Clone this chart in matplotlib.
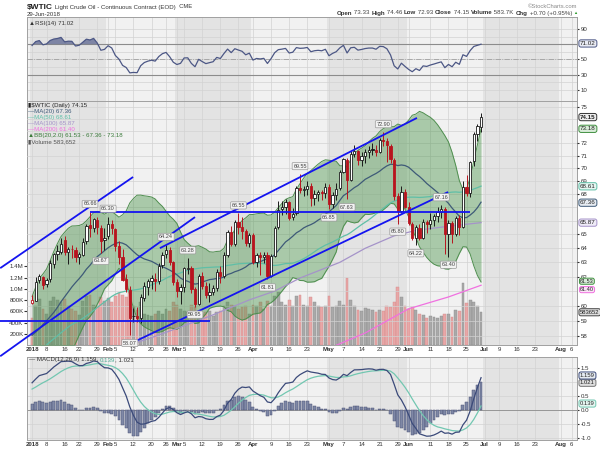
import numpy as np
import pandas as pd
import matplotlib
matplotlib.use("Agg")
import matplotlib.pyplot as plt
from matplotlib.ticker import FixedLocator, FixedFormatter, NullLocator, NullFormatter

plt.rcParams.update({
    "font.family": ["Liberation Sans", "DejaVu Sans"],
    "axes.edgecolor": "#a0a0a0",
    "axes.linewidth": 0.7,
    "xtick.color": "#333333",
    "ytick.color": "#333333",
})

# ---------------- data ----------------
# closes before 2018 (only used to warm up the moving averages / RSI / MACD)
hist_close = [51.84, 51.90, 52.47, 52.18, 52.64, 53.90, 54.15, 54.38,
              54.30, 54.54, 55.64, 57.35, 57.20, 56.81, 57.17, 56.74, 56.76, 55.70, 55.33,
              55.14, 56.55, 56.09, 56.83, 58.02, 58.95, 58.11, 57.99, 57.30, 57.40,
              58.36, 57.47, 57.62, 55.96, 56.69, 57.36, 57.99, 57.14, 56.60, 57.04,
              57.30, 57.16, 57.46, 58.09, 58.36, 58.47, 59.97, 59.64, 59.84, 60.42]

opens = [60.20, 60.35, 61.75, 61.95, 61.50, 61.80, 62.90, 63.60, 63.75, 64.60, 63.70, 63.95, 63.90, 63.40, 63.50, 64.55, 65.70, 65.50, 66.10, 65.50, 64.60,
         64.90, 65.75, 65.40, 64.20, 63.40, 61.80, 61.10, 59.30, 59.35, 59.20, 60.55, 61.30, 61.70, 61.85, 61.70, 62.80, 63.60, 63.90, 63.00,
         61.60, 61.00, 61.25, 62.55, 62.60, 61.15, 60.15, 62.05, 61.35, 60.70, 60.95, 61.20, 62.35, 62.05, 63.55, 65.20, 64.30, 65.90, 65.55, 65.25, 64.40,
         64.95, 63.00, 63.50, 63.40, 63.55, 62.05, 63.45, 65.55, 66.85, 67.05, 67.40, 66.25, 66.55, 68.50, 68.30, 68.40, 68.65, 67.70, 68.05, 68.20, 68.10,
         68.55, 67.25, 67.95, 68.45, 69.75, 70.70, 69.10, 71.15, 71.35, 70.70, 70.95, 71.30, 71.50, 71.50, 71.30, 72.25, 72.20, 71.80, 70.70, 67.85, 66.75, 68.20,
         67.05, 65.80, 64.75, 65.50, 64.75, 65.95, 65.75, 66.10, 66.35, 66.65, 66.90, 65.00, 65.85, 65.05, 66.20, 65.55, 68.55, 68.10, 70.55, 72.75, 73.33]
highs = [60.74, 61.95, 62.21, 62.04, 61.92, 63.15, 63.67, 64.22, 64.77, 64.89, 64.09, 64.26, 64.10, 63.75, 64.74, 65.74, 66.66, 66.20, 66.29, 65.70, 65.48,
         66.30, 66.05, 65.50, 64.56, 63.95, 62.15, 61.35, 59.88, 59.90, 60.80, 61.64, 61.85, 62.10, 62.25, 62.95, 63.73, 64.24, 64.10, 63.10,
         61.85, 61.50, 62.70, 63.28, 62.75, 61.30, 62.15, 62.35, 61.65, 61.55, 61.40, 62.50, 62.75, 63.70, 65.35, 65.60, 66.05, 66.55, 66.28, 65.40, 65.10,
         65.10, 63.65, 63.75, 63.70, 63.70, 63.60, 65.60, 67.45, 67.45, 67.65, 67.45, 66.95, 68.60, 69.55, 68.65, 69.00, 68.90, 68.35, 68.30, 68.35, 68.90,
         68.80, 68.15, 68.85, 69.85, 70.85, 70.85, 71.35, 71.89, 71.45, 71.30, 71.55, 71.78, 72.00, 71.90, 72.45, 72.90, 72.40, 71.95, 70.80, 68.10, 68.60, 68.40,
         67.40, 65.95, 65.70, 65.80, 66.15, 66.10, 66.55, 66.50, 67.00, 67.16, 67.00, 66.05, 66.00, 66.35, 66.45, 69.00, 69.45, 70.55, 72.90, 73.60, 74.46]
lows = [60.10, 60.30, 61.55, 61.12, 61.30, 61.60, 62.60, 63.15, 63.60, 63.55, 62.90, 63.30, 63.05, 62.90, 63.45, 64.30, 64.85, 65.20, 65.00, 63.67, 63.90,
        64.70, 65.00, 63.78, 62.87, 61.70, 60.97, 58.07, 58.92, 58.90, 58.88, 60.35, 60.75, 61.15, 61.00, 61.50, 62.60, 63.30, 62.80, 61.40,
        60.60, 60.15, 60.95, 62.20, 60.85, 59.95, 60.05, 61.15, 60.50, 60.25, 60.70, 61.00, 61.55, 61.90, 63.35, 64.20, 64.20, 65.05, 64.70, 64.15, 64.10,
        62.90, 62.70, 62.10, 62.95, 61.81, 61.95, 63.40, 65.40, 66.40, 66.50, 66.05, 66.10, 66.40, 68.10, 67.90, 67.95, 67.10, 67.20, 67.45, 67.60, 67.70,
        66.85, 66.95, 67.60, 68.30, 69.65, 67.63, 69.00, 70.90, 70.25, 70.20, 70.40, 70.85, 71.10, 70.95, 71.20, 71.80, 70.50, 70.40, 67.60, 65.80, 66.60, 66.95,
        65.70, 64.60, 64.22, 64.60, 64.70, 65.10, 65.40, 65.60, 65.90, 66.20, 63.59, 63.40, 64.40, 64.90, 64.95, 65.45, 67.85, 67.80, 70.20, 72.20, 72.93]
closes = [60.37, 61.63, 62.01, 61.44, 61.73, 62.96, 63.57, 63.80, 64.30, 63.73, 63.97, 63.95, 63.37, 63.57, 64.47, 65.61, 65.51, 66.14, 65.56, 64.50, 64.73,
          65.80, 65.45, 64.15, 63.39, 61.79, 61.15, 59.20, 59.29, 59.19, 60.60, 61.34, 61.68, 61.90, 61.68, 62.77, 63.55, 63.91, 63.01, 61.64,
          60.99, 61.25, 62.57, 62.60, 61.15, 60.12, 62.04, 61.36, 60.71, 60.96, 61.19, 62.34, 62.06, 63.54, 65.17, 64.30, 65.88, 65.55, 65.25, 64.38, 64.94,
          63.01, 63.51, 63.37, 63.54, 62.06, 63.42, 65.51, 66.82, 67.07, 67.39, 66.22, 66.52, 68.47, 68.29, 68.38, 68.64, 67.70, 68.05, 68.19, 68.10, 68.57,
          67.25, 67.93, 68.43, 69.72, 70.73, 69.06, 71.14, 71.36, 70.70, 70.96, 71.31, 71.49, 71.49, 71.28, 72.24, 72.20, 71.84, 70.71, 67.88, 66.73, 68.21, 67.04,
          65.81, 64.75, 65.52, 64.73, 65.95, 65.74, 66.10, 66.36, 66.64, 66.89, 65.06, 65.85, 65.07, 66.22, 65.54, 68.58, 68.08, 70.53, 72.76, 73.45, 74.15]
volume_k = [480, 700, 820, 640, 560, 780, 850, 800, 760, 820, 700, 650, 600, 540, 780, 880, 900, 720, 700, 860, 780,
            840, 760, 880, 920, 900, 860, 1000, 700, 620, 760, 560, 540, 520, 560, 600, 560, 640, 600, 760,
            720, 640, 600, 580, 720, 680, 600, 560, 580, 600, 520, 580, 600, 700, 760, 720, 700, 640, 680, 700, 560,
            720, 700, 760, 640, 780, 700, 880, 940, 760, 720, 800, 700, 880, 900, 720, 700, 860, 760, 700, 680, 700,
            880, 680, 700, 780, 720, 1200, 800, 700, 620, 600, 660, 640, 620, 580, 620, 600, 700, 680, 760, 1030, 850, 700,
            650, 680, 620, 560, 540, 480, 520, 500, 480, 520, 560, 560, 500, 620, 600, 1100, 740, 800, 760, 700, 584]

# longer moving averages, read at a few dates (trading-day index)
ma100_idx = [24, 33, 40, 49, 60, 67, 74, 85, 92, 100, 106, 115, 124]
ma100_val = [57.2, 57.9, 58.5, 59.3, 60.4, 61.0, 61.9, 63.0, 64.0, 64.9, 65.3, 65.6, 65.87]
ma200_idx = [80, 84, 92, 104, 115, 124]
ma200_val = [57.1, 57.4, 58.2, 59.8, 60.6, 61.40]

# price labels placed on swing highs / lows
ann_idx = [16, 21, 19, 27, 37, 43, 45, 57, 65, 74, 82, 87, 97, 101, 106, 113, 115]
ann_val = [66.66, 66.30, 63.67, 58.07, 64.24, 63.28, 59.95, 66.55, 61.81, 69.55,
           66.85, 67.63, 72.90, 65.80, 64.22, 67.16, 63.40]
ann_high = [True, True, False, False, True, True, False, True, False, True,
            False, False, True, False, False, True, False]

# hand-drawn trend lines: (x0, p0, x1, p1) in trading-day index / price
trend_lines = [(-8.8, 62.59, 27.9, 69.33),
               (-8.8, 56.70, 45.0, 66.28),
               (35.3, 64.01, 106.3, 74.08),
               (26.2, 57.40, 114.9, 68.17),
               (16.0, 66.66, 120.9, 66.66),
               (-8.8, 58.97, 49.1, 58.97)]

date_idx = [0, 4, 9, 13, 18, 21, 23, 28, 33, 37, 40, 42, 47, 52, 57, 61, 66, 71, 76,
            82, 86, 91, 96, 101, 104, 110, 115, 120, 125, 129, 134, 139, 146, 149]
date_lbl = ["2018", "8", "16", "22", "29", "Feb", "5", "12", "20", "26", "Mar", "5", "12",
            "19", "26", "Apr", "9", "16", "23", "May", "7", "14", "21", "29", "Jun", "11",
            "18", "25", "Jul", "9", "16", "23", "Aug", "6"]
month_start = [0, 21, 40, 61, 82, 104, 125, 146, 151]

price_grid = list(range(58, 76))
price_ticks = [58, 59, 60, 62, 63, 64, 65, 68, 69, 70, 71, 72, 75]
vol_ticks = [200e3, 400e3, 600e3, 800e3, 1.0e6, 1.2e6, 1.4e6]
vol_tick_lbl = ["200K", "400K", "600K", "800K", "1.0M", "1.2M", "1.4M"]
rsi_ticks = [10, 30, 50, 90]
macd_grid = [-1.0, -0.5, 0.0, 0.5, 1.0, 1.5]
macd_ticks = [-1.0, -0.5, 0.0, 0.5, 1.5]

# ---------------- indicators ----------------
n_hist = len(hist_close)
s = pd.Series(hist_close + closes)
ma20 = s.rolling(20).mean().values[n_hist:]
ma50 = s.rolling(50).mean().values[n_hist:]
sd20 = s.rolling(20).std(ddof=0).values[n_hist:]
bb_up, bb_dn = ma20 + 2 * sd20, ma20 - 2 * sd20
d = s.diff()
gain = d.clip(lower=0).ewm(alpha=1 / 14, adjust=False).mean()
loss = (-d.clip(upper=0)).ewm(alpha=1 / 14, adjust=False).mean()
rsi = (100 - 100 / (1 + gain / loss)).values[n_hist:]
macd_s = s.ewm(span=12, adjust=False).mean() - s.ewm(span=26, adjust=False).mean()
sig_s = macd_s.ewm(span=9, adjust=False).mean()
macd = macd_s.values[n_hist:]
sig = sig_s.values[n_hist:]
hist = macd - sig

o, h, l, c = map(np.array, (opens, highs, lows, closes))
x = np.arange(len(c))
prev = np.r_[hist_close[-1], c[:-1]]

# ---------------- styling ----------------
W, H = 600, 450
L, R = 27, 577
XMIN, XMAX = -1.4, 150.5
LIGHT, DARK, GRID = "#f1f1f1", "#e3e3e3", "#d2d2d2"
RED = "#b8141e"
C20, C50, C100, C200 = "#3e5a78", "#5fbfa7", "#a593c9", "#f070e0"
BBC = "#3f8f3f"
RSIC = "#4c5785"
FS = 4.4

fig = plt.figure(figsize=(6, 4.5), dpi=100)


def rect(top, bot):
    return [L / W, 1 - bot / H, (R - L) / W, (bot - top) / H]


def panel(a, labels=True):
    a.set_xlim(XMIN, XMAX)
    a.set_facecolor(LIGHT)
    for k in range(len(month_start) - 1):
        if k % 2 == 0:
            a.axvspan(month_start[k] - 0.5, month_start[k + 1] - 0.5,
                      color=DARK, lw=0, zorder=0)
    a.set_xticks(date_idx)
    a.set_xticklabels(date_lbl if labels else [])
    a.grid(axis="x", color=GRID, lw=0.5)
    a.tick_params(axis="x", length=0, pad=1.2, labelsize=FS)
    for t in a.get_xticklabels():
        if not t.get_text().isdigit() or t.get_text() == "2018":
            t.set_fontweight("bold")
    a.yaxis.tick_right()
    a.tick_params(axis="y", length=1.5, pad=1, labelsize=FS, colors="#333")


def tag(a, y, txt, ec, fc="#f6f6f6", tc="#222", weight="normal", trans=None, fs=4.5,
        pad=0.18):
    if trans is None:
        trans = a.get_yaxis_transform()
    a.text(1 + 3 / (R - L), y, txt, transform=trans, ha="left", va="center", fontsize=fs,
           color=tc, fontweight=weight, clip_on=False, zorder=20,
           bbox=dict(boxstyle=f"round,pad={pad},rounding_size=0.35", fc=fc, ec=ec, lw=0.7))


def run_text(x_px, y_px, parts, align="left"):
    r = fig.canvas.get_renderer()
    arts = [fig.text(0, 1 - y_px / H, t, va="center", **kw) for t, kw in parts]
    ws = [a.get_window_extent(r).width for a in arts]
    xx = x_px if align == "left" else x_px - sum(ws)
    for a, w in zip(arts, ws):
        a.set_x(xx / W)
        xx += w


# ---- RSI panel ----
ax_rsi = fig.add_axes(rect(17, 101))
panel(ax_rsi, labels=False)
ax_rsi.set_ylim(-4.4, 105.7)
for lv in range(10, 100, 10):
    ax_rsi.axhline(lv, color=GRID, lw=0.5, zorder=1)
ax_rsi.axhline(70, color="#8c8c8c", lw=0.8, zorder=2)
ax_rsi.axhline(30, color="#8c8c8c", lw=0.8, zorder=2)
ax_rsi.axhline(50, color="#a0a0a0", lw=0.6, ls="-.", zorder=2)
ax_rsi.fill_between(x, rsi, 70, where=rsi >= 70, interpolate=True,
                    color="#5d6690", alpha=0.75, lw=0, zorder=3)
ax_rsi.fill_between(x, rsi, 30, where=rsi <= 30, interpolate=True,
                    color="#5d6690", alpha=0.75, lw=0, zorder=3)
ax_rsi.plot(x, rsi, color=RSIC, lw=0.9, zorder=4)
ax_rsi.set_yticks(rsi_ticks)
tag(ax_rsi, 71.02, "71.02", RSIC, fc="#e9ebf3")
ax_rsi.text(0.004, 0.95, "\u25B2RSI(14) 71.02", transform=ax_rsi.transAxes, ha="left",
            va="top", fontsize=FS, color="#333")

# ---- price + volume panel ----
ax_vol = fig.add_axes(rect(101, 345))
panel(ax_vol)
ax_vol.set_ylim(0, 4.35e6)
ax_vol.yaxis.tick_left()
ax_vol.set_yticks(vol_ticks)
ax_vol.set_yticklabels(vol_tick_lbl)
ax_vol.tick_params(axis="y", length=2, pad=0.5, labelsize=FS)
v_up = c >= prev
ax_vol.bar(x, np.array(volume_k) * 1000, width=0.78,
           color=np.where(v_up, "#a9a9a9", "#e8a7a7"),
           edgecolor=np.where(v_up, "#8d8d8d", "#d48a8a"), lw=0.3, zorder=2)

ax = fig.add_axes(rect(101, 345), label="price")
ax.patch.set_visible(False)
ax.set_xlim(XMIN, XMAX)
ax.set_yscale("log")
ax.set_ylim(57.42, 75.5)
ax.yaxis.tick_right()
ax.yaxis.set_major_locator(FixedLocator(price_ticks))
ax.yaxis.set_major_formatter(FixedFormatter([str(t) for t in price_ticks]))
ax.yaxis.set_minor_locator(NullLocator())
ax.yaxis.set_minor_formatter(NullFormatter())
ax.set_xticks([])
ax.tick_params(axis="y", length=1.5, pad=1, labelsize=FS, colors="#333")
for lv in price_grid:
    ax.axhline(lv, color=GRID, lw=0.5, zorder=0.5)
for sp in ax.spines.values():
    sp.set_visible(False)

ax.fill_between(x, bb_dn, bb_up, color=BBC, alpha=0.4, lw=0, zorder=2)
ax.plot(x, bb_up, color="#4e8e4e", lw=0.7, zorder=2.2)
ax.plot(x, bb_dn, color="#4e8e4e", lw=0.7, zorder=2.2)
ax.plot(ma200_idx, ma200_val, color=C200, lw=0.9, zorder=3)
ax.plot(ma100_idx, ma100_val, color=C100, lw=0.9, zorder=3)
ax.plot(x, ma50, color=C50, lw=0.9, zorder=3)
ax.plot(x, ma20, color=C20, lw=0.9, zorder=3)

edge = np.where(c >= prev, "#1a1a1a", RED)
face = [("white" if cc >= oo else ec) for cc, oo, ec in zip(c, o, edge)]
ax.vlines(x, l, h, colors=edge, lw=0.7, zorder=4)
ax.bar(x, np.maximum(np.abs(c - o), 0.03), bottom=np.minimum(o, c), width=0.62,
       color=face, edgecolor=edge, lw=0.6, zorder=5)

for x0, p0, x1, p1 in trend_lines:
    ax.plot([x0, x1], [p0, p1], color="#1414f0", lw=1.3, zorder=6, clip_on=False,
            solid_capstyle="butt")

for i, v, up in zip(ann_idx, ann_val, ann_high):
    ax.annotate(f"{v:.2f}", (i, v), xytext=(0, 4 if up else -4), textcoords="offset points",
                ha="center", va="bottom" if up else "top", fontsize=4, color="#444",
                bbox=dict(boxstyle="round,pad=0.2", fc="#f2f2f2", ec="#9a9a9a", lw=0.5),
                zorder=7)

# value tags on the right edge (the two lowest sit stacked, as in the original)
tag(ax, 61.68, "61.53", BBC, fc="#d9ecd9", fs=4.0, pad=0.1)
tag(ax, 61.10, "61.40", C200, fc="#fbe3f7", fs=4.0, pad=0.1)
tag(ax, 65.87, "65.87", C100, fc="#efebf7")
tag(ax, 67.36, "67.36", C20, fc="#e6ebf1")
tag(ax, 68.61, "68.61", C50, fc="#e6f6f1")
tag(ax, 73.18, "73.18", BBC, fc="#d9ecd9")
tag(ax, 74.15, "74.15", "#333333", fc="#eeeeee", weight="bold")
tag(ax, 583652 / 4.35e6, "583652", "#444444", fc="#dddddd", trans=ax.transAxes, fs=4.2)

legend = [("\u25AE$WTIC (Daily) 74.15", "#222222"),
          ("\u2014MA(20) 67.36", C20),
          ("\u2014MA(50) 68.61", C50),
          ("\u2014MA(100) 65.87", C100),
          ("\u2014MA(200) 61.40", C200),
          ("\u25B2BB(20,2.0) 61.53 - 67.36 - 73.18", "#3a7a3a"),
          ("\u25AEVolume 583,652", "#555555")]
for k, (t, col) in enumerate(legend):
    fig.text(28 / W, 1 - (106 + 6 * k) / H, t, fontsize=FS, color=col, va="center")

# ---- MACD panel ----
ax_macd = fig.add_axes(rect(357, 440))
panel(ax_macd)
ax_macd.set_ylim(-1.06, 1.9)
ax_macd.set_yticks(macd_ticks)
ax_macd.set_yticklabels([f"{t:.1f}" for t in macd_ticks])
for lv in macd_grid:
    ax_macd.axhline(lv, color=GRID, lw=0.5, zorder=1)
ax_macd.axhline(0, color="#8c8c8c", lw=0.6, zorder=2)
ax_macd.bar(x, hist, width=0.8, color="#7f88a6", edgecolor="#4d5476", lw=0.35, zorder=3)
ax_macd.plot(x, sig, color="#72c7b1", lw=0.9, zorder=4)
ax_macd.plot(x, macd, color="#3b4a7a", lw=0.9, zorder=5)
tag(ax_macd, 0.24, "0.139", "#72c7b1", fc="#e6f6f1", fs=4.2)
tag(ax_macd, 0.98, "1.021", "#777777", fc="#dddddd", fs=4.2)
tag(ax_macd, 1.24, "1.159", "#3b4a7a", fc="#e6ebf1", fs=4.2)

# ---- header ----
run_text(27, 7, [("$WTIC", dict(fontsize=6, fontweight="bold", color="#222")),
                 (" Light Crude Oil - Continuous Contract (EOD)", dict(fontsize=4.4, color="#333")),
                 ("  CME", dict(fontsize=4.2, color="#333"))])
fig.text(27 / W, 1 - 14 / H, "29-Jun-2018", fontsize=4.3, color="#333", va="center")
fig.text(577 / W, 1 - 6 / H, "\u00A9StockCharts.com", fontsize=4.2, color="#888",
         ha="right", va="center")
b = dict(fontsize=4.4, fontweight="bold", color="#333")
n = dict(fontsize=4.4, color="#444")
run_text(572, 13, [("Open", b), (" 73.33 ", n), ("High", b), (" 74.46 ", n),
                   ("Low", b), (" 72.93 ", n), ("Close", b), (" 74.15 ", n),
                   ("Volume", b), (" 583.7K ", n), ("Chg", b), (" +0.70 (+0.95%)", n)],
         align="right")
fig.text(575 / W, 1 - 13 / H, "\u25B2", fontsize=3, color="#2a9a2a", ha="center", va="center")
run_text(29, 360, [("\u2014 MACD(12,26,9) 1.159, ", dict(fontsize=FS, color="#333")),
                   ("0.139", dict(fontsize=FS, color="#4fae97")),
                   (", 1.021", dict(fontsize=FS, color="#333"))])

fig.savefig("out.png", dpi=100)
